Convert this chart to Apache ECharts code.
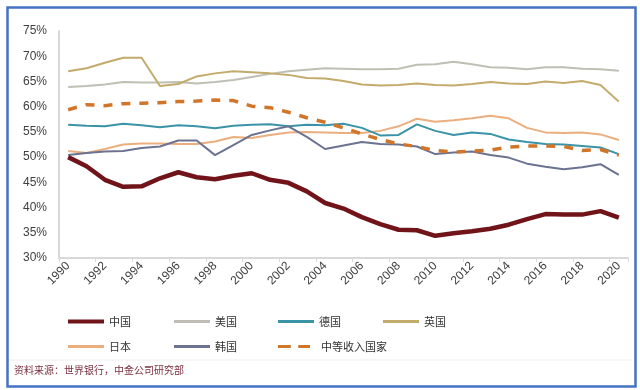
<!DOCTYPE html>
<html>
<head>
<meta charset="utf-8">
<script src="https://cdn.jsdelivr.net/npm/echarts@6/dist/echarts.min.js"></script>
<style>
html,body{margin:0;padding:0;background:#fff;}
#chart{width:640px;height:390px;}
</style>
</head>
<body>
<div id="chart"></div>
<script>
const years = [];
for (let y = 1990; y <= 2020; y++) years.push(String(y));

const china  = [50.0,48.2,45.5,44.1,44.2,45.8,47.0,46.0,45.6,46.3,46.8,45.5,44.9,43.2,40.9,39.8,38.1,36.7,35.6,35.5,34.4,34.9,35.3,35.8,36.6,37.7,38.7,38.6,38.6,39.3,38.0];
const usa    = [63.9,64.1,64.4,64.9,64.8,64.8,64.9,64.6,64.9,65.3,65.9,66.5,67.0,67.3,67.6,67.5,67.4,67.4,67.5,68.3,68.4,68.9,68.4,67.8,67.7,67.4,67.8,67.8,67.5,67.4,67.1];
const germany= [56.4,56.2,56.1,56.6,56.3,55.9,56.3,56.1,55.7,56.2,56.4,56.5,56.1,56.4,56.3,56.6,55.8,54.3,54.4,56.5,55.2,54.4,54.9,54.6,53.5,53.0,52.6,52.5,52.2,51.9,50.6];
const uk     = [67.0,67.6,68.7,69.7,69.7,64.1,64.5,66.0,66.6,67.0,66.8,66.6,66.3,65.7,65.6,65.1,64.4,64.2,64.3,64.6,64.3,64.2,64.5,64.9,64.6,64.5,65.0,64.7,65.1,64.3,61.0];
const japan  = [51.2,50.8,51.6,52.5,52.7,52.7,52.6,52.6,53.1,54.0,53.8,54.4,54.9,55.0,54.9,54.8,54.8,55.2,56.1,57.6,57.0,57.3,57.7,58.2,57.7,55.8,54.9,54.8,54.9,54.5,53.4];
const korea  = [50.4,50.8,51.1,51.2,51.8,52.1,53.3,53.3,50.4,52.4,54.4,55.3,56.1,54.0,51.6,52.3,53.0,52.6,52.5,52.1,50.6,50.9,51.1,50.4,49.9,48.7,48.1,47.6,48.0,48.6,46.5];
const middle = [59.4,60.4,60.2,60.6,60.7,60.8,61.0,61.1,61.3,61.2,60.1,59.8,58.9,57.8,56.9,55.8,54.6,53.5,52.6,52.1,51.3,51.0,51.2,51.4,52.0,52.2,52.2,52.1,51.3,51.5,50.4];

const names = ['中国','美国','德国','英国','日本','韩国','中等收入国家'];
const sourceText = '资料来源：世界银行，中金公司研究部';

const chart = echarts.init(document.getElementById('chart'), null, {renderer:'canvas'});

function line(name, data, color, width, z, dashed) {
  return {
    name: name, type: 'line', data: data, symbol: 'none', z: z,
    lineStyle: {color: color, width: width, type: dashed ? [9, 9] : 'solid'},
    itemStyle: {color: color}
  };
}

const legendPos = [
  [63, 311], [169, 311], [273, 311], [378, 311],
  [63, 336], [169, 336], [273, 336]
];
const legendColors = ['#70141A','#BFBFB5','#3A93A6','#C2AB6B','#EBAE7E','#6B7390','#D0752A'];
const legends = names.map((n, i) => {
  const dashed = (i === 6);
  return {
    data: [{name: n, icon: dashed ? 'path://M0,0h12v1h-12z M19,0h11v1h-11z' : 'rect'}],
    left: legendPos[i][0], top: legendPos[i][1],
    itemWidth: dashed ? 32 : 36, itemHeight: i === 0 ? 4 : 3, itemGap: 4,
    symbolKeepAspect: false,
    itemStyle: {color: legendColors[i], borderWidth: 0},
    lineStyle: {width: 0},
    textStyle: {fontSize: 11, color: '#333', fontFamily: 'Noto Sans CJK SC', padding: [0, 0, 0, dashed ? 6 : 0]},
    selectedMode: false
  };
});

chart.setOption({
  backgroundColor: '#fff',
  animation: false,
  legend: legends,
  grid: {left: 59, right: 12, top: 31, bottom: 132},
  xAxis: {
    type: 'category', data: years, boundaryGap: true,
    axisLine: {lineStyle: {color: '#D9D9D9', width: 2}},
    axisTick: {show: true, interval: 1, length: 4, lineStyle: {color: '#D9D9D9'}},
    axisLabel: {interval: 1, rotate: 45, fontSize: 12, color: '#404040', margin: 6, fontFamily: 'Liberation Sans'}
  },
  yAxis: {
    type: 'value', min: 30, max: 75, interval: 5,
    splitLine: {show: false},
    axisLine: {show: true, lineStyle: {color: '#D9D9D9', width: 2}},
    axisTick: {show: false},
    axisLabel: {formatter: '{value}%', fontSize: 12, color: '#404040', margin: 12, fontFamily: 'Liberation Sans'}
  },
  series: [
    line('美国', usa, '#BFBFB5', 2, 2),
    line('英国', uk, '#C2AB6B', 2, 2),
    line('日本', japan, '#EBAE7E', 2, 2),
    line('德国', germany, '#3A93A6', 2, 2),
    line('韩国', korea, '#6B7390', 2, 2),
    line('中等收入国家', middle, '#D0752A', 3.5, 3, true),
    line('中国', china, '#70141A', 4.5, 4)
  ],
  graphic: [
    {type: 'rect', left: 5, top: 5, shape: {width: 628, height: 379},
     style: {fill: 'none', stroke: '#4472C4', lineWidth: 2.5}, silent: true, z: 100},
    {type: 'line', shape: {x1: 7, y1: 360, x2: 631, y2: 360},
     style: {stroke: '#EEEEEE', lineWidth: 1}, silent: true},
    {type: 'text', left: 14, top: 365,
     style: {text: sourceText, fontSize: 10, fill: '#7A3040', fontFamily: 'Noto Sans CJK SC'}}
  ]
});
</script>
</body>
</html>
